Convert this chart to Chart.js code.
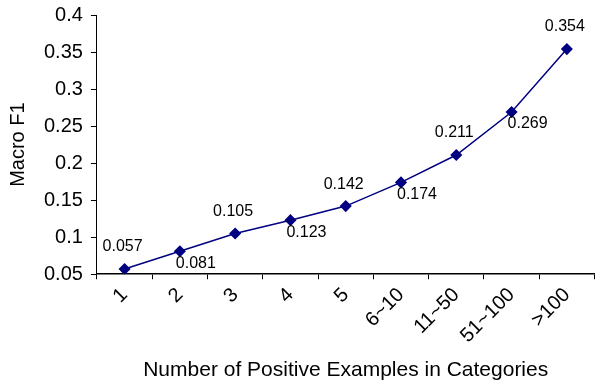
<!DOCTYPE html>
<html>
<head>
<meta charset="utf-8">
<script src="https://cdn.jsdelivr.net/npm/chart.js@4"></script>
<style>
  html, body { margin: 0; background: #fff; overflow: hidden; }
  /* 6px wider than the window: Chart.js keeps a 6px gutter for the end point,
     the original runs its plot right to the edge */
  .chart-box { width: 601px; height: 385px; }
</style>
</head>
<body>
<div class="chart-box"><canvas id="f1-chart"></canvas></div>
<script>
/* Data
================================================================ */

const categories = ['1', '2', '3', '4', '5', '6~10', '11~50', '51~100', '>100']
const macroF1 = [0.057, 0.081, 0.105, 0.123, 0.142, 0.174, 0.211, 0.269, 0.354]
const yTicks = [0.05, 0.1, 0.15, 0.2, 0.25, 0.3, 0.35, 0.4]

/* Point labels
================================================================ */

// even points get their value above, odd points below and a bit right
const pointLabels = {
  id: 'pointLabels',
  afterDatasetsDraw(chart) {
    const ctx = chart.ctx
    const meta = chart.getDatasetMeta(0)
    ctx.save()
    ctx.font = '16px "Liberation Sans", Arial, sans-serif'
    ctx.fillStyle = '#000'
    ctx.textAlign = 'center'
    ctx.textBaseline = 'middle'
    meta.data.forEach((pt, i) => {
      const above = i % 2 === 0
      const dx = above ? -2 : 16
      const dy = above ? -22 : 12
      ctx.fillText(macroF1[i].toFixed(3), pt.x + dx, pt.y + dy)
    })
    ctx.restore()
  }
}

/* Chart
================================================================ */

const axisFont = { family: '"Liberation Sans", Arial, sans-serif', size: 20 }
const titleFont = { family: '"Liberation Sans", Arial, sans-serif', size: 21 }

const f1Chart = new Chart(document.getElementById('f1-chart'), {
  type: 'line',
  data: {
    labels: categories,
    datasets: [
      {
        data: macroF1,
        borderColor: '#000080',
        backgroundColor: '#000080',
        borderWidth: 1.5,
        pointStyle: 'rectRot',
        pointRadius: 5,
        pointHoverRadius: 5,
        tension: 0
      }
    ]
  },
  options: {
    responsive: true,
    maintainAspectRatio: false,
    animation: false,
    layout: {
      padding: { top: 0, right: 0, left: 6, bottom: 0 }
    },
    scales: {
      x: {
        offset: true,
        grid: { offset: true, drawOnChartArea: false, color: '#000', tickLength: 5 },
        border: { color: '#000', width: 1.5 },
        ticks: { color: '#000', font: axisFont, minRotation: 45, maxRotation: 45, padding: 4 },
        title: { display: true, text: 'Number of Positive Examples in Categories', color: '#000', font: titleFont, padding: { top: 6, bottom: 2 } }
      },
      y: {
        min: yTicks[0],
        max: yTicks[yTicks.length - 1],
        afterBuildTicks: (axis) => { axis.ticks = yTicks.map((v) => ({ value: v })) },
        // top label only needs half its height above the plot
        afterFit: (scale) => { scale.paddingTop = 15 },
        grid: { drawOnChartArea: false, color: '#000', tickLength: 6 },
        border: { color: '#000', width: 1 },
        ticks: { color: '#000', font: axisFont, padding: 8, callback: (v) => String(v) },
        title: { display: true, text: 'Macro F1', color: '#000', font: axisFont, padding: { top: 0, bottom: 6 } }
      }
    },
    plugins: {
      legend: { display: false },
      tooltip: { enabled: false }
    }
  },
  plugins: [pointLabels]
})
</script>
</body>
</html>
